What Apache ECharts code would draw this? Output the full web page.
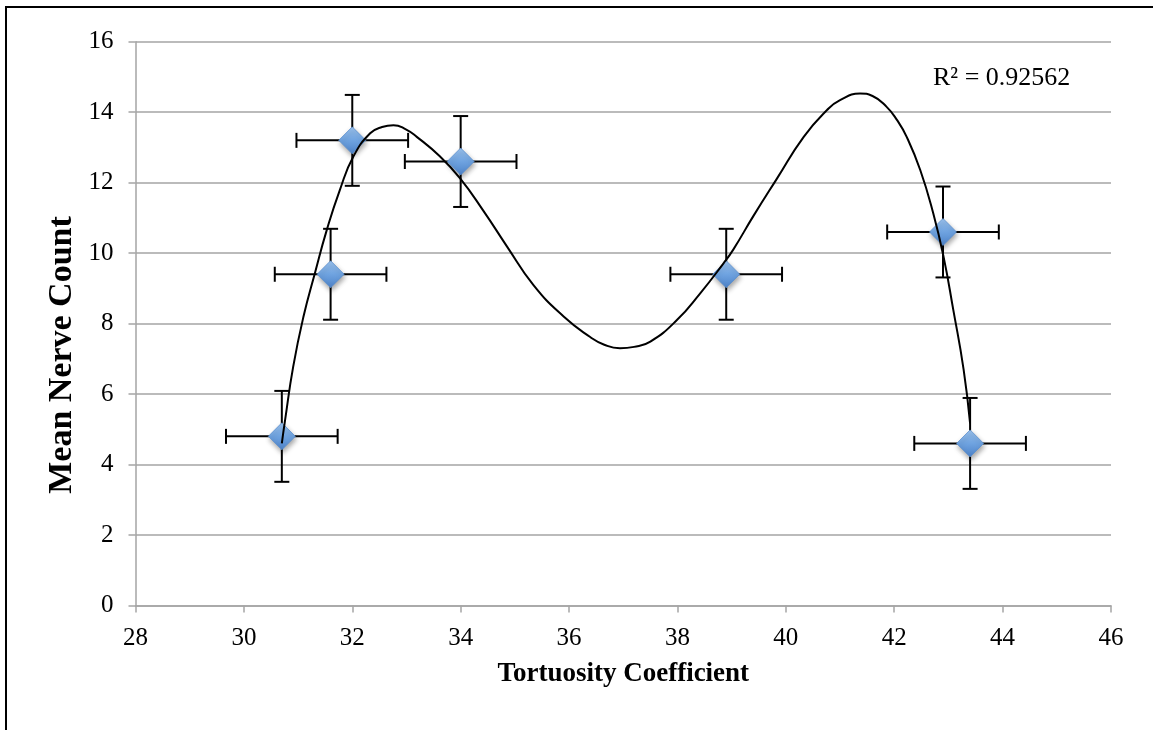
<!DOCTYPE html>
<html>
<head>
<meta charset="utf-8">
<title>Mean Nerve Count vs Tortuosity Coefficient</title>
<script src="https://cdn.jsdelivr.net/npm/echarts@6/dist/echarts.min.js"></script>
<style>
  html, body { margin: 0; padding: 0; background: #fff; }
  #chart { width: 1153px; height: 730px; }
</style>
</head>
<body>
<div id="chart"></div>
<script>
// 数据点
var xVals = [30.7, 31.6, 32.0, 34.0, 38.9, 42.9, 43.4];
var yVals = [4.8, 9.4, 13.2, 12.6, 9.4, 10.6, 4.6];
// 误差
var xErr = [1.03, 1.03, 1.03, 1.03, 1.03, 1.03, 1.03];
var yErr = [1.29, 1.29, 1.29, 1.29, 1.29, 1.29, 1.29];

// 趋势线 (从图上读出的点)
var trendX = [30.70, 30.76, 30.91, 31.10, 31.31, 31.53, 31.77, 32.02, 32.33, 32.55, 32.76, 32.98,
  33.19, 33.62, 33.99, 34.42, 34.85, 35.34, 35.90, 36.39, 36.65, 36.94, 37.20, 37.50, 37.99,
  38.42, 38.85, 39.03, 39.40, 39.83, 40.33, 40.76, 41.00, 41.37, 41.60, 41.86, 42.05, 42.23,
  42.48, 42.72, 42.91, 43.09, 43.28, 43.40];
var trendY = [4.6, 5.26, 6.78, 8.20, 9.43, 10.66, 11.79, 12.74, 13.40, 13.58, 13.63, 13.52,
  13.30, 12.74, 12.12, 11.20, 10.20, 9.10, 8.20, 7.62, 7.40, 7.30, 7.34, 7.49, 8.10,
  8.86, 9.71, 10.10, 11.05, 12.10, 13.30, 14.06, 14.34, 14.53, 14.46, 14.15, 13.78, 13.30,
  12.36, 11.13, 9.90, 8.39, 6.70, 5.17];

var rSquared = 'R² = 0.92562';
var xTitle = 'Tortuosity Coefficient';
var yTitle = 'Mean Nerve Count';

var serif = "'Liberation Serif', 'Times New Roman', serif";
var gridColor = '#a5a5a5';

var chart = echarts.init(document.getElementById('chart'));

// 误差线
function renderErrorBar(params, api) {
  var x = api.value(0), y = api.value(1), ex = api.value(2), ey = api.value(3);
  var c = api.coord([x, y]);
  var l = api.coord([x - ex, y]);
  var r = api.coord([x + ex, y]);
  var t = api.coord([x, y + ey]);
  var b = api.coord([x, y - ey]);
  var cap = 7.5;
  var st = { stroke: '#000', lineWidth: 2, fill: null };
  return {
    type: 'group',
    children: [
      { type: 'line', shape: { x1: l[0], y1: c[1], x2: r[0], y2: c[1] }, style: st },
      { type: 'line', shape: { x1: l[0], y1: c[1] - cap, x2: l[0], y2: c[1] + cap }, style: st },
      { type: 'line', shape: { x1: r[0], y1: c[1] - cap, x2: r[0], y2: c[1] + cap }, style: st },
      { type: 'line', shape: { x1: c[0], y1: t[1], x2: c[0], y2: b[1] }, style: st },
      { type: 'line', shape: { x1: c[0] - cap, y1: t[1], x2: c[0] + cap, y2: t[1] }, style: st },
      { type: 'line', shape: { x1: c[0] - cap, y1: b[1], x2: c[0] + cap, y2: b[1] }, style: st }
    ]
  };
}

chart.setOption({
  animation: false,
  backgroundColor: '#fff',
  grid: {
    left: 135.5,
    right: 42,
    top: 41.7,
    bottom: 124.5
  },
  xAxis: {
    type: 'value',
    min: 28,
    max: 46,
    interval: 2,
    name: xTitle,
    nameLocation: 'middle',
    nameGap: 55,
    nameTextStyle: { fontFamily: serif, fontWeight: 'bold', fontSize: 27, color: '#000' },
    axisLine: { lineStyle: { color: gridColor, width: 1.5 } },
    axisTick: { show: true, inside: false, length: 7, lineStyle: { color: gridColor, width: 1.5 } },
    axisLabel: { fontFamily: serif, fontSize: 25, color: '#000', margin: 20 },
    splitLine: { show: false }
  },
  yAxis: {
    type: 'value',
    min: 0,
    max: 16,
    interval: 2,
    axisLine: { show: true, lineStyle: { color: gridColor, width: 1.5 } },
    axisTick: { show: true, inside: false, length: 7, lineStyle: { color: gridColor, width: 1.5 } },
    axisLabel: { fontFamily: serif, fontSize: 25, color: '#000', margin: 22 },
    splitLine: { show: true, lineStyle: { color: gridColor, width: 1.5 } }
  },
  graphic: [
    {
      // 外框
      type: 'rect',
      shape: { x: 6, y: 7, width: 1300, height: 900 },
      style: { fill: null, stroke: '#000', lineWidth: 2 },
      silent: true
    },
    {
      type: 'text',
      x: 62,
      y: 355,
      rotation: Math.PI / 2,
      style: {
        text: yTitle,
        fontFamily: serif,
        fontWeight: 'bold',
        fontSize: 34,
        fill: '#000',
        textAlign: 'center',
        textVerticalAlign: 'middle'
      }
    },
    {
      type: 'text',
      x: 933,
      y: 78,
      style: {
        text: rSquared,
        fontFamily: serif,
        fontSize: 26,
        fill: '#000',
        textAlign: 'left',
        textVerticalAlign: 'middle'
      }
    }
  ],
  series: [
    {
      type: 'custom',
      name: 'error',
      renderItem: renderErrorBar,
      encode: { x: 0, y: 1 },
      data: xVals.map(function (x, i) { return [x, yVals[i], xErr[i], yErr[i]]; }),
      z: 2
    },
    {
      type: 'scatter',
      name: yTitle,
      symbol: 'diamond',
      symbolSize: 27,
      data: xVals.map(function (x, i) { return [x, yVals[i]]; }),
      itemStyle: {
        color: new echarts.graphic.LinearGradient(0, 0, 0, 1, [
          { offset: 0, color: '#9cc3ee' },
          { offset: 0.5, color: '#6fa3e0' },
          { offset: 1, color: '#4d82c8' }
        ]),
        borderColor: '#5b8fcf',
        borderWidth: 0.8,
        shadowBlur: 5,
        shadowOffsetX: 1,
        shadowOffsetY: 3,
        shadowColor: 'rgba(0,0,0,0.35)',
        opacity: 1
      },
      z: 3
    },
    {
      type: 'line',
      name: 'trend',
      data: trendX.map(function (x, i) { return [x, trendY[i]]; }),
      showSymbol: false,
      smooth: 0.5,
      lineStyle: { color: '#000', width: 2 },
      z: 4
    }
  ]
});
</script>
</body>
</html>
